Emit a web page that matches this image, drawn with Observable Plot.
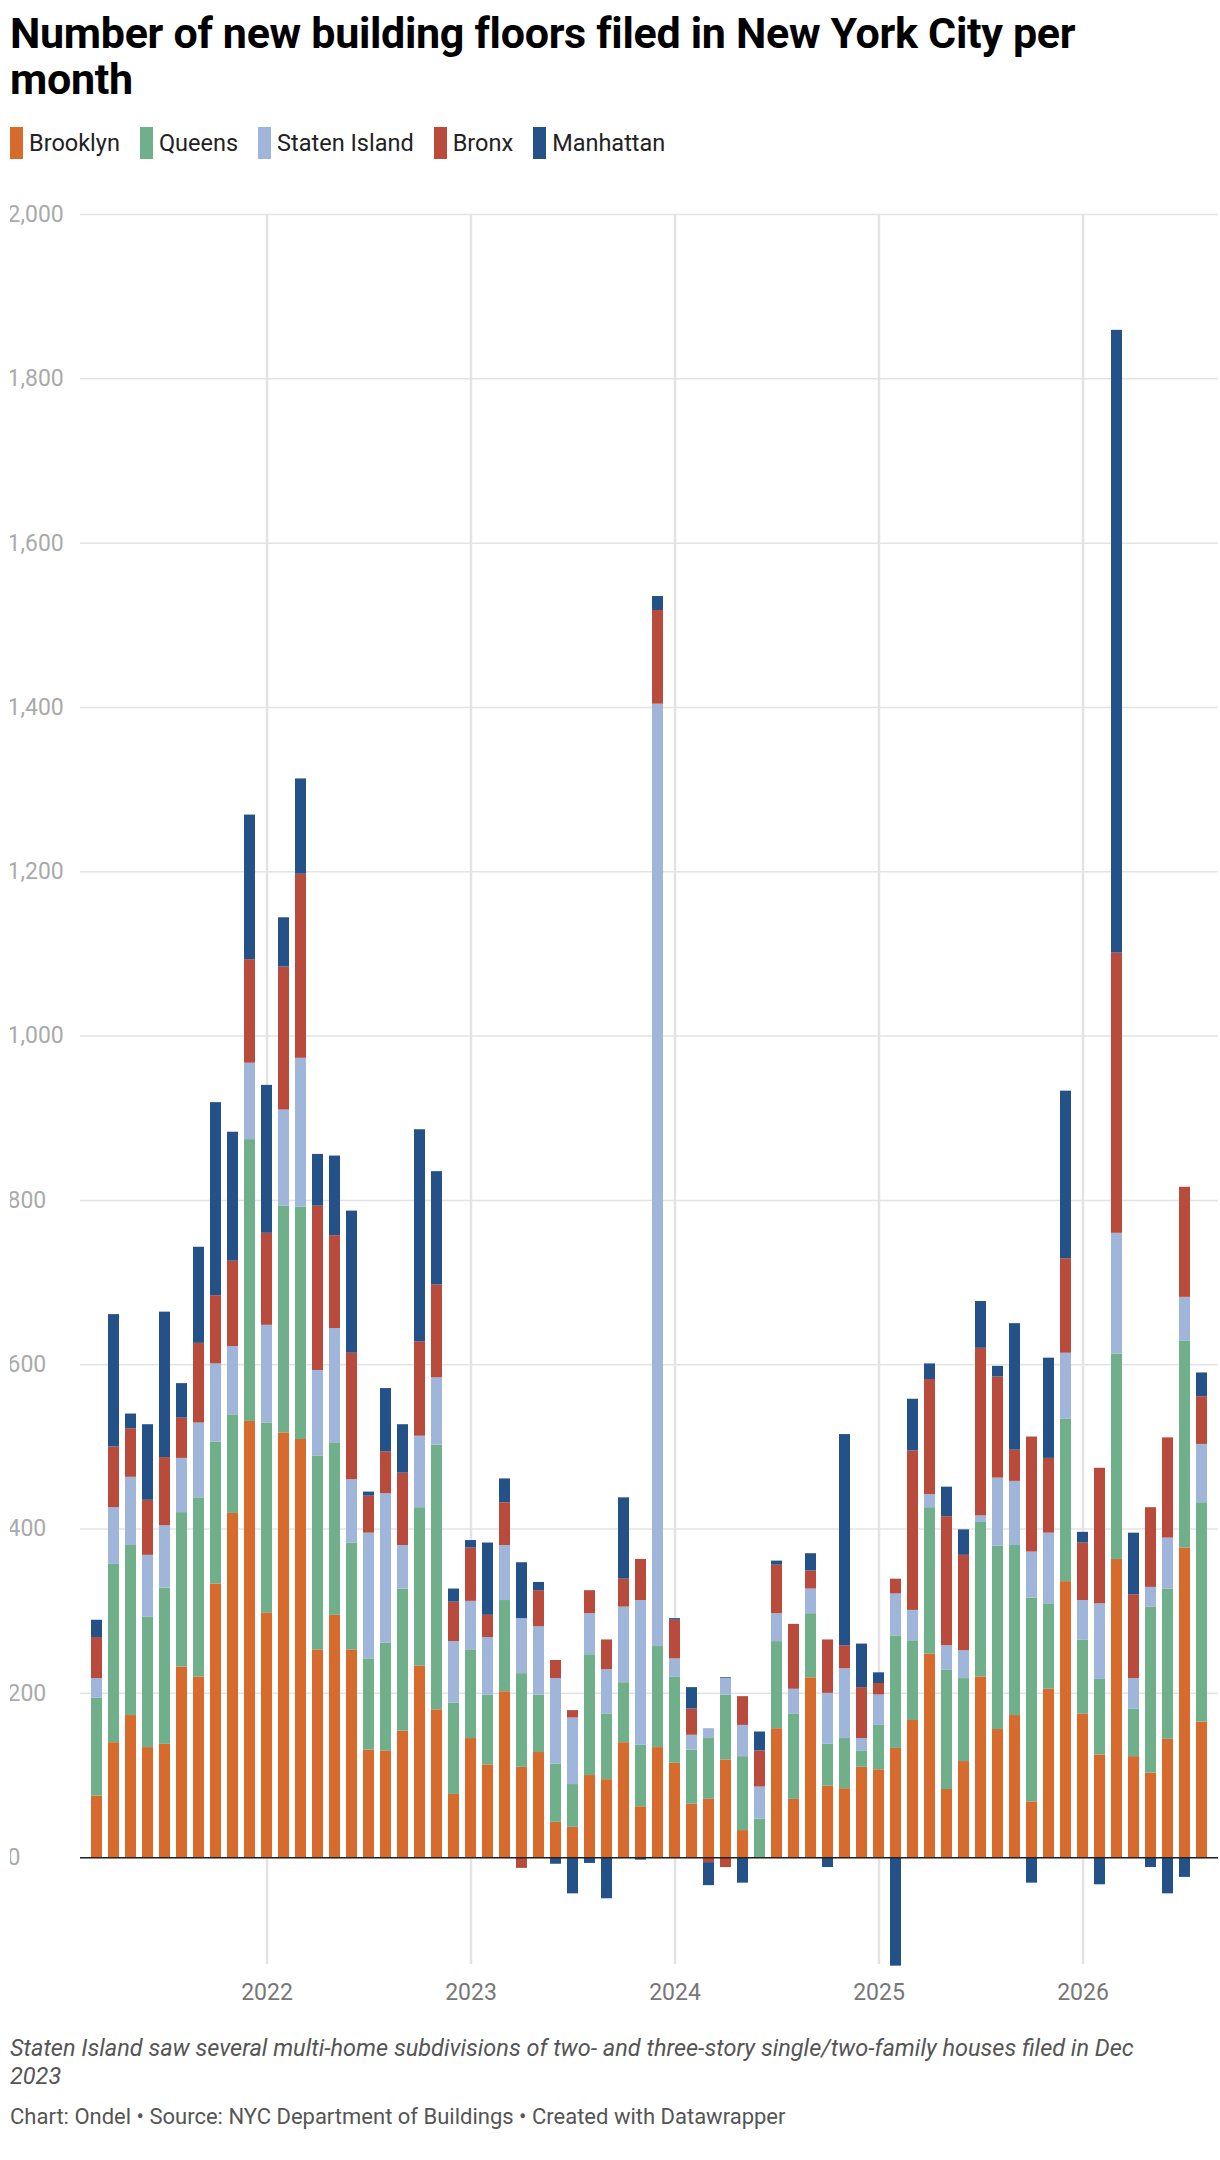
<!DOCTYPE html>
<html><head><meta charset="utf-8">
<script src="https://cdn.jsdelivr.net/npm/d3@7"></script>
<script src="https://cdn.jsdelivr.net/npm/@observablehq/plot@0.6"></script>
<style>
body{margin:0;padding:0 0 0 10px;font-family:Roboto,sans-serif;background:#fff;width:1210px}
h1{font-size:43px;font-weight:700;margin:10px 0 0 0;line-height:46px;letter-spacing:-0.3px;width:1150px}
.legend{display:flex;gap:20px;margin:24px 0 0 0;font-size:23.5px;color:#222;height:34px}
.legend span{display:flex;align-items:center}
.legend i{display:inline-block;width:13px;height:32px;margin-right:6px}
#chart{margin-top:36px}
.cap{font-style:italic;color:#555;font-size:23.5px;line-height:28px;margin:26px 0 0 0;width:1170px}
.credit{color:#555;font-size:22px;margin-top:14px}
</style></head><body>
<h1>Number of new building floors filed in New York City per month</h1>
<div class="legend" id="lg"></div>
<div id="chart"></div>
<div class="cap">Staten Island saw several multi-home subdivisions of two- and three-story single/two-family houses filed in Dec 2023</div>
<div class="credit">Chart: Ondel • Source: NYC Department of Buildings • Created with Datawrapper</div>
<script>
const boroughs = ["Brooklyn","Queens","Staten Island","Bronx","Manhattan"];
const colors = ["#d76b2e","#6faf8a","#a0b5da","#b84b3c","#255189"];
const startYear = 2021, startMonth = 3; // first bar: March 2021
const brooklyn = [75,140,173,134,138,232,220,333,419,531,298,517,509,253,295,253,131,130,154,233,180,77,145,113,202,110,128,43,37,100,95,140,62,134,115,65,71,119,33,0,157,71,219,87,84,110,107,133,167,248,83,117,220,156,173,68,205,336,175,125,363,123,103,144,377,165];
const queens = [119,217,207,159,190,188,218,173,120,343,231,276,283,236,210,130,111,131,173,193,322,111,108,85,111,114,70,71,52,147,80,73,75,123,105,66,74,79,90,47,106,104,78,51,61,20,54,137,97,178,145,101,188,223,207,248,104,198,90,92,250,58,202,183,252,267];
const statenIsland = [24,69,83,75,76,66,91,95,83,93,119,117,181,104,139,77,153,182,53,87,82,75,59,70,67,67,83,104,81,50,54,92,176,1147,22,18,12,20,38,39,34,30,30,62,85,15,37,51,37,16,30,34,8,83,78,56,86,80,48,92,147,37,24,62,53,71];
const bronx = [50,74,59,67,83,49,97,83,104,126,112,174,224,200,113,154,45,51,88,115,113,48,65,27,52,-13,44,22,9,28,36,34,50,114,47,32,-6,-12,35,44,59,79,22,65,28,62,14,18,194,140,157,116,204,123,38,140,91,115,70,165,341,102,97,122,134,58];
const manhattan = [21,161,18,92,177,42,117,235,157,176,180,60,116,63,97,173,5,77,59,258,138,16,9,88,29,68,10,-8,-44,-7,-50,99,-3,17,2,26,-28,1,-31,23,5,0,21,-12,257,53,13,-132,63,19,36,31,57,13,154,-31,122,204,13,-33,758,75,-12,-44,-24,29];
const yTicks = [0,200,400,600,800,1000,1200,1400,1600,1800,2000];

const series = [brooklyn,queens,statenIsland,bronx,manhattan];
const months = brooklyn.map((_, i) => {
  const m = startMonth - 1 + i;
  return `${startYear + Math.floor(m/12)}-${String(m%12+1).padStart(2,"0")}`;
});
const data = [];
months.forEach((mo, i) => series.forEach((s, k) => data.push({month: mo, borough: boroughs[k], value: s[i]})));
const jans = months.filter(m => m.endsWith("-01"));

document.getElementById("lg").innerHTML = boroughs.map((b,i)=>`<span><i style="background:${colors[i]}"></i>${b}</span>`).join("");

const chart = Plot.plot({
  width: 1210, height: 1812,
  marginLeft: 70, marginRight: 2, marginTop: 18, marginBottom: 44,
  style: {fontFamily: "Roboto, sans-serif", fontSize: "23px", color: "#999"},
  x: {type: "band", domain: months, padding: 0.35, label: null},
  y: {domain: [-130, 2000], label: null},
  color: {domain: boroughs, range: colors},
  marks: [
    Plot.gridY(yTicks, {stroke: "#e3e3e3", strokeOpacity: 1, strokeWidth: 1.5}),
    Plot.gridX(jans, {stroke: "#e3e3e3", strokeOpacity: 1, strokeWidth: 2.5}),
    Plot.axisY(yTicks, {tickSize: 0, textAnchor: "start", dx: -64, dy: 0, tickFormat: d3.format(","), fill: "#aaa", fontSize: 23}),
    Plot.axisX(jans, {tickSize: 0, tickFormat: d => d.slice(0,4), fill: "#777", fontSize: 23, dy: 10}),
    Plot.barY(data, Plot.stackY({x: "month", y: "value", fill: "borough", order: boroughs})),
    Plot.ruleY([0], {stroke: "#222", strokeWidth: 1.5})
  ]
});
document.getElementById("chart").appendChild(chart);
</script>
</body></html>
